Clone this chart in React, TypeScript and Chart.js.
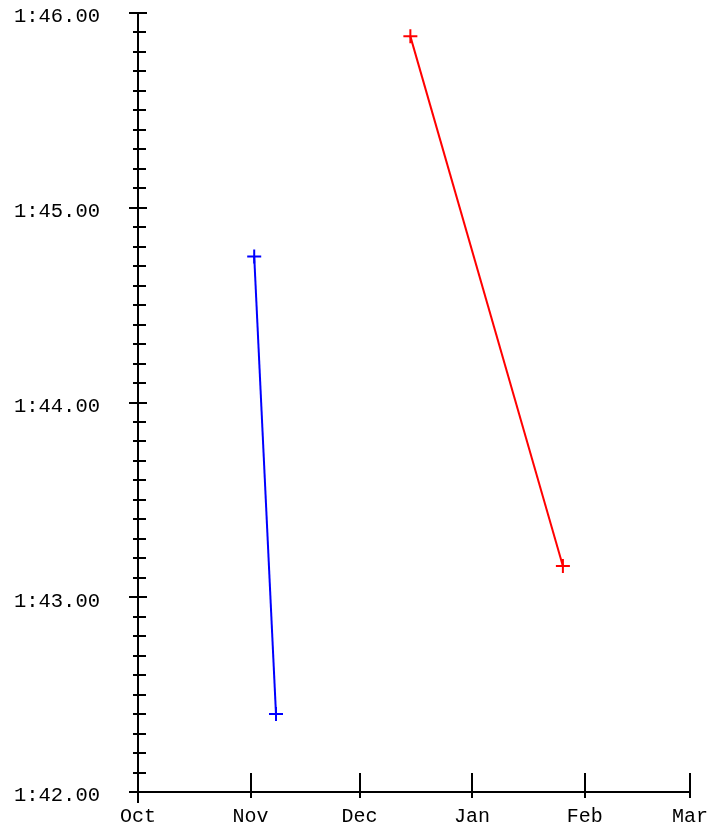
import React, { useEffect, useRef } from "react";
import { Chart, registerables } from "chart.js";

Chart.register(...registerables);

const monthLabels = ["Oct", "Nov", "Dec", "Jan", "Feb", "Mar"];
const monthStarts = ["2023-10-01", "2023-11-01", "2023-12-01", "2024-01-01", "2024-02-01", "2024-03-01"];

const blueDates = ["2023-11-02", "2023-11-08"];
const blueTimes = [104.75, 102.4];

const redDates = ["2023-12-15", "2024-01-26"];
const redTimes = [105.88, 103.16];

const yMin = 102;
const yMax = 106;
const yMajorStep = 1;
const yMinorStep = 0.1;

const origin = Date.UTC(2023, 9, 1);
const dayOf = (s: string) => {
  const [yy, mm, dd] = s.split("-").map(Number);
  return Math.round((Date.UTC(yy, mm - 1, dd) - origin) / 864e5);
};

const fmtTime = (v: number) => {
  const m = Math.floor(v / 60);
  const s = v - m * 60;
  const ss = s.toFixed(2);
  return m + ":" + (s < 10 ? "0" + ss : ss);
};

const FONT = "'Liberation Mono', 'Courier New', monospace";

const axesPlugin = {
  id: "customAxes",
  afterDraw(chart: any) {
    const { ctx, chartArea } = chart;
    const { left, right, top, bottom } = chartArea;
    const x = chart.scales.x;
    const y = chart.scales.y;
    ctx.save();
    ctx.strokeStyle = "#000";
    ctx.lineWidth = 2;
    const line = (x1: number, y1: number, x2: number, y2: number) => {
      ctx.beginPath();
      ctx.moveTo(x1, y1);
      ctx.lineTo(x2, y2);
      ctx.stroke();
    };
    line(left, top, left, bottom + 11);
    line(left, bottom, right, bottom);
    const nMinor = Math.round((yMax - yMin) / yMinorStep);
    for (let i = 0; i <= nMinor; i++) {
      const v = yMin + i * yMinorStep;
      const py = Math.round(y.getPixelForValue(v));
      if (i % Math.round(yMajorStep / yMinorStep) === 0) {
        line(left - 9, py, left + 9, py);
      } else {
        line(left - 5, py, left + 8, py);
      }
    }
    monthStarts.forEach((d) => {
      const px = Math.round(x.getPixelForValue(dayOf(d)));
      line(px, bottom - 19, px, bottom + 6);
    });
    ctx.restore();
  },
};

export default function App() {
  const ref = useRef<HTMLCanvasElement>(null);
  useEffect(() => {
    document.body.style.margin = "0";
    const monthDays = monthStarts.map(dayOf);
    const chart = new Chart(ref.current as HTMLCanvasElement, {
      type: "line",
      data: {
        datasets: [
          {
            data: blueDates.map((d, i) => ({ x: dayOf(d), y: blueTimes[i] })),
            borderColor: "#0000ff",
            borderWidth: 2,
            pointStyle: "cross",
            pointRadius: 7,
            pointBorderWidth: 2,
          },
          {
            data: redDates.map((d, i) => ({ x: dayOf(d), y: redTimes[i] })),
            borderColor: "#ff0000",
            borderWidth: 2,
            pointStyle: "cross",
            pointRadius: 7,
            pointBorderWidth: 2,
          },
        ],
      },
      options: {
        animation: false,
        responsive: false,
        layout: { padding: { top: 13, right: 38, left: 0, bottom: 0 } },
        plugins: { legend: { display: false }, tooltip: { enabled: false } },
        scales: {
          x: {
            type: "linear",
            min: monthDays[0],
            max: monthDays[monthDays.length - 1],
            grid: { display: false },
            border: { display: false },
            afterBuildTicks: (scale: any) => {
              scale.ticks = monthDays.map((v) => ({ value: v }));
            },
            afterFit: (scale: any) => {
              scale.height = 33;
            },
            ticks: {
              autoSkip: false,
              maxRotation: 0,
              padding: 5,
              color: "#000",
              font: { family: FONT, size: 20 },
              callback: (v: any) => {
                const idx = monthDays.indexOf(Number(v));
                return idx >= 0 ? monthLabels[idx] : "";
              },
            },
          },
          y: {
            type: "linear",
            min: yMin,
            max: yMax,
            grid: { display: false },
            border: { display: false },
            afterFit: (scale: any) => {
              scale.width = 138;
              scale.paddingTop = 0;
              scale.paddingBottom = 0;
            },
            ticks: {
              stepSize: yMajorStep,
              padding: 30,
              labelOffset: 4,
              color: "#000",
              font: { family: FONT, size: 20.5 },
              callback: (v: any) => fmtTime(Number(v)),
            },
          },
        },
      },
      plugins: [axesPlugin],
    });
    return () => chart.destroy();
  }, []);
  return (
    <div style={{ position: "absolute", left: 0, top: 0, width: 728, height: 825 }}>
      <canvas ref={ref} width={728} height={825} style={{ display: "block" }} />
    </div>
  );
}
